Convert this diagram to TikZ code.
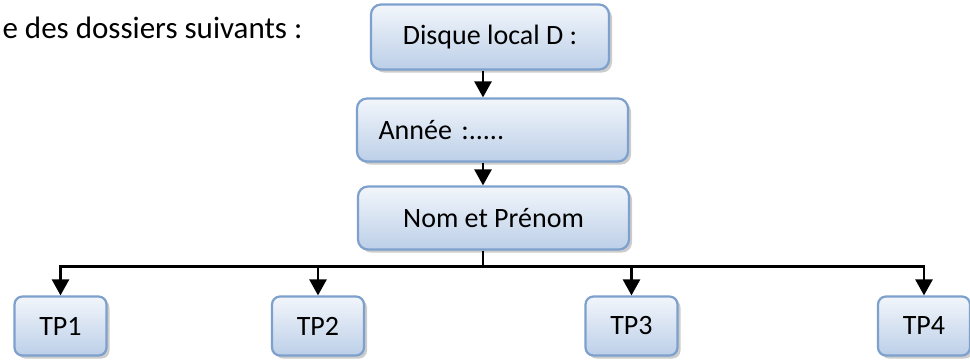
\documentclass[tikz,border=0pt]{standalone}
\usepackage{fontspec}
\setmainfont{Carlito}
\usetikzlibrary{arrows.meta,shadows}

\definecolor{boxline}{RGB}{125,160,205}
\definecolor{boxtop}{RGB}{242,246,251}
\definecolor{boxbottom}{RGB}{188,207,232}

\begin{document}
\begin{tikzpicture}[x=1pt, y=-1pt, font=\fontsize{28}{33}\selectfont,
    box/.style = {draw=boxline, line width=2.2pt, rounded corners=10pt, top color=boxtop, bottom color=boxbottom,
                  drop shadow={shadow xshift=3pt, shadow yshift=-3pt, fill=black!40}, inner sep=0pt},
    tp/.style = {box, minimum width=92pt, minimum height=59pt, rounded corners=8pt},
    link/.style = {-{Triangle[width=17pt,length=16pt]}, line width=2.6pt}]
\useasboundingbox (0,0) rectangle (970,360);

\node[anchor=base west, font=\fontsize{31}{36}\selectfont] (titre) at (-1,38) {e des dossiers suivants :};

\node[box, minimum width=238pt, minimum height=65pt] (disque) at (490,37) {Disque local D :};
\node[box, minimum height=63pt, text width=228pt, inner xsep=21.5pt, align=left] (annee) at (492.5,130) {Année :.....};
\node[box, minimum width=271pt, minimum height=63pt] (nom) at (493.5,218) {Nom et Prénom};

\node[tp] (tp1) at (60.5,326) {TP1};
\node[tp] (tp2) at (318,326) {TP2};
\node[tp] (tp3) at (631.5,326) {TP3};
\node[tp] (tp4) at (924,326) {TP4};

\draw[link] ([xshift=-7pt]disque.south) -- ([xshift=-7pt]disque.south |- annee.north);
\draw[link] ([xshift=-9.5pt]annee.south) -- ([xshift=-9.5pt]annee.south |- nom.north);

% branches vers les TP
\draw[line width=2.6pt] ([xshift=-10.5pt]nom.south) -- ++(0,16) coordinate (j);
\foreach \t in {tp1,tp2,tp3,tp4}
    \draw[link] (j) -| (\t.north);
\end{tikzpicture}
\end{document}
